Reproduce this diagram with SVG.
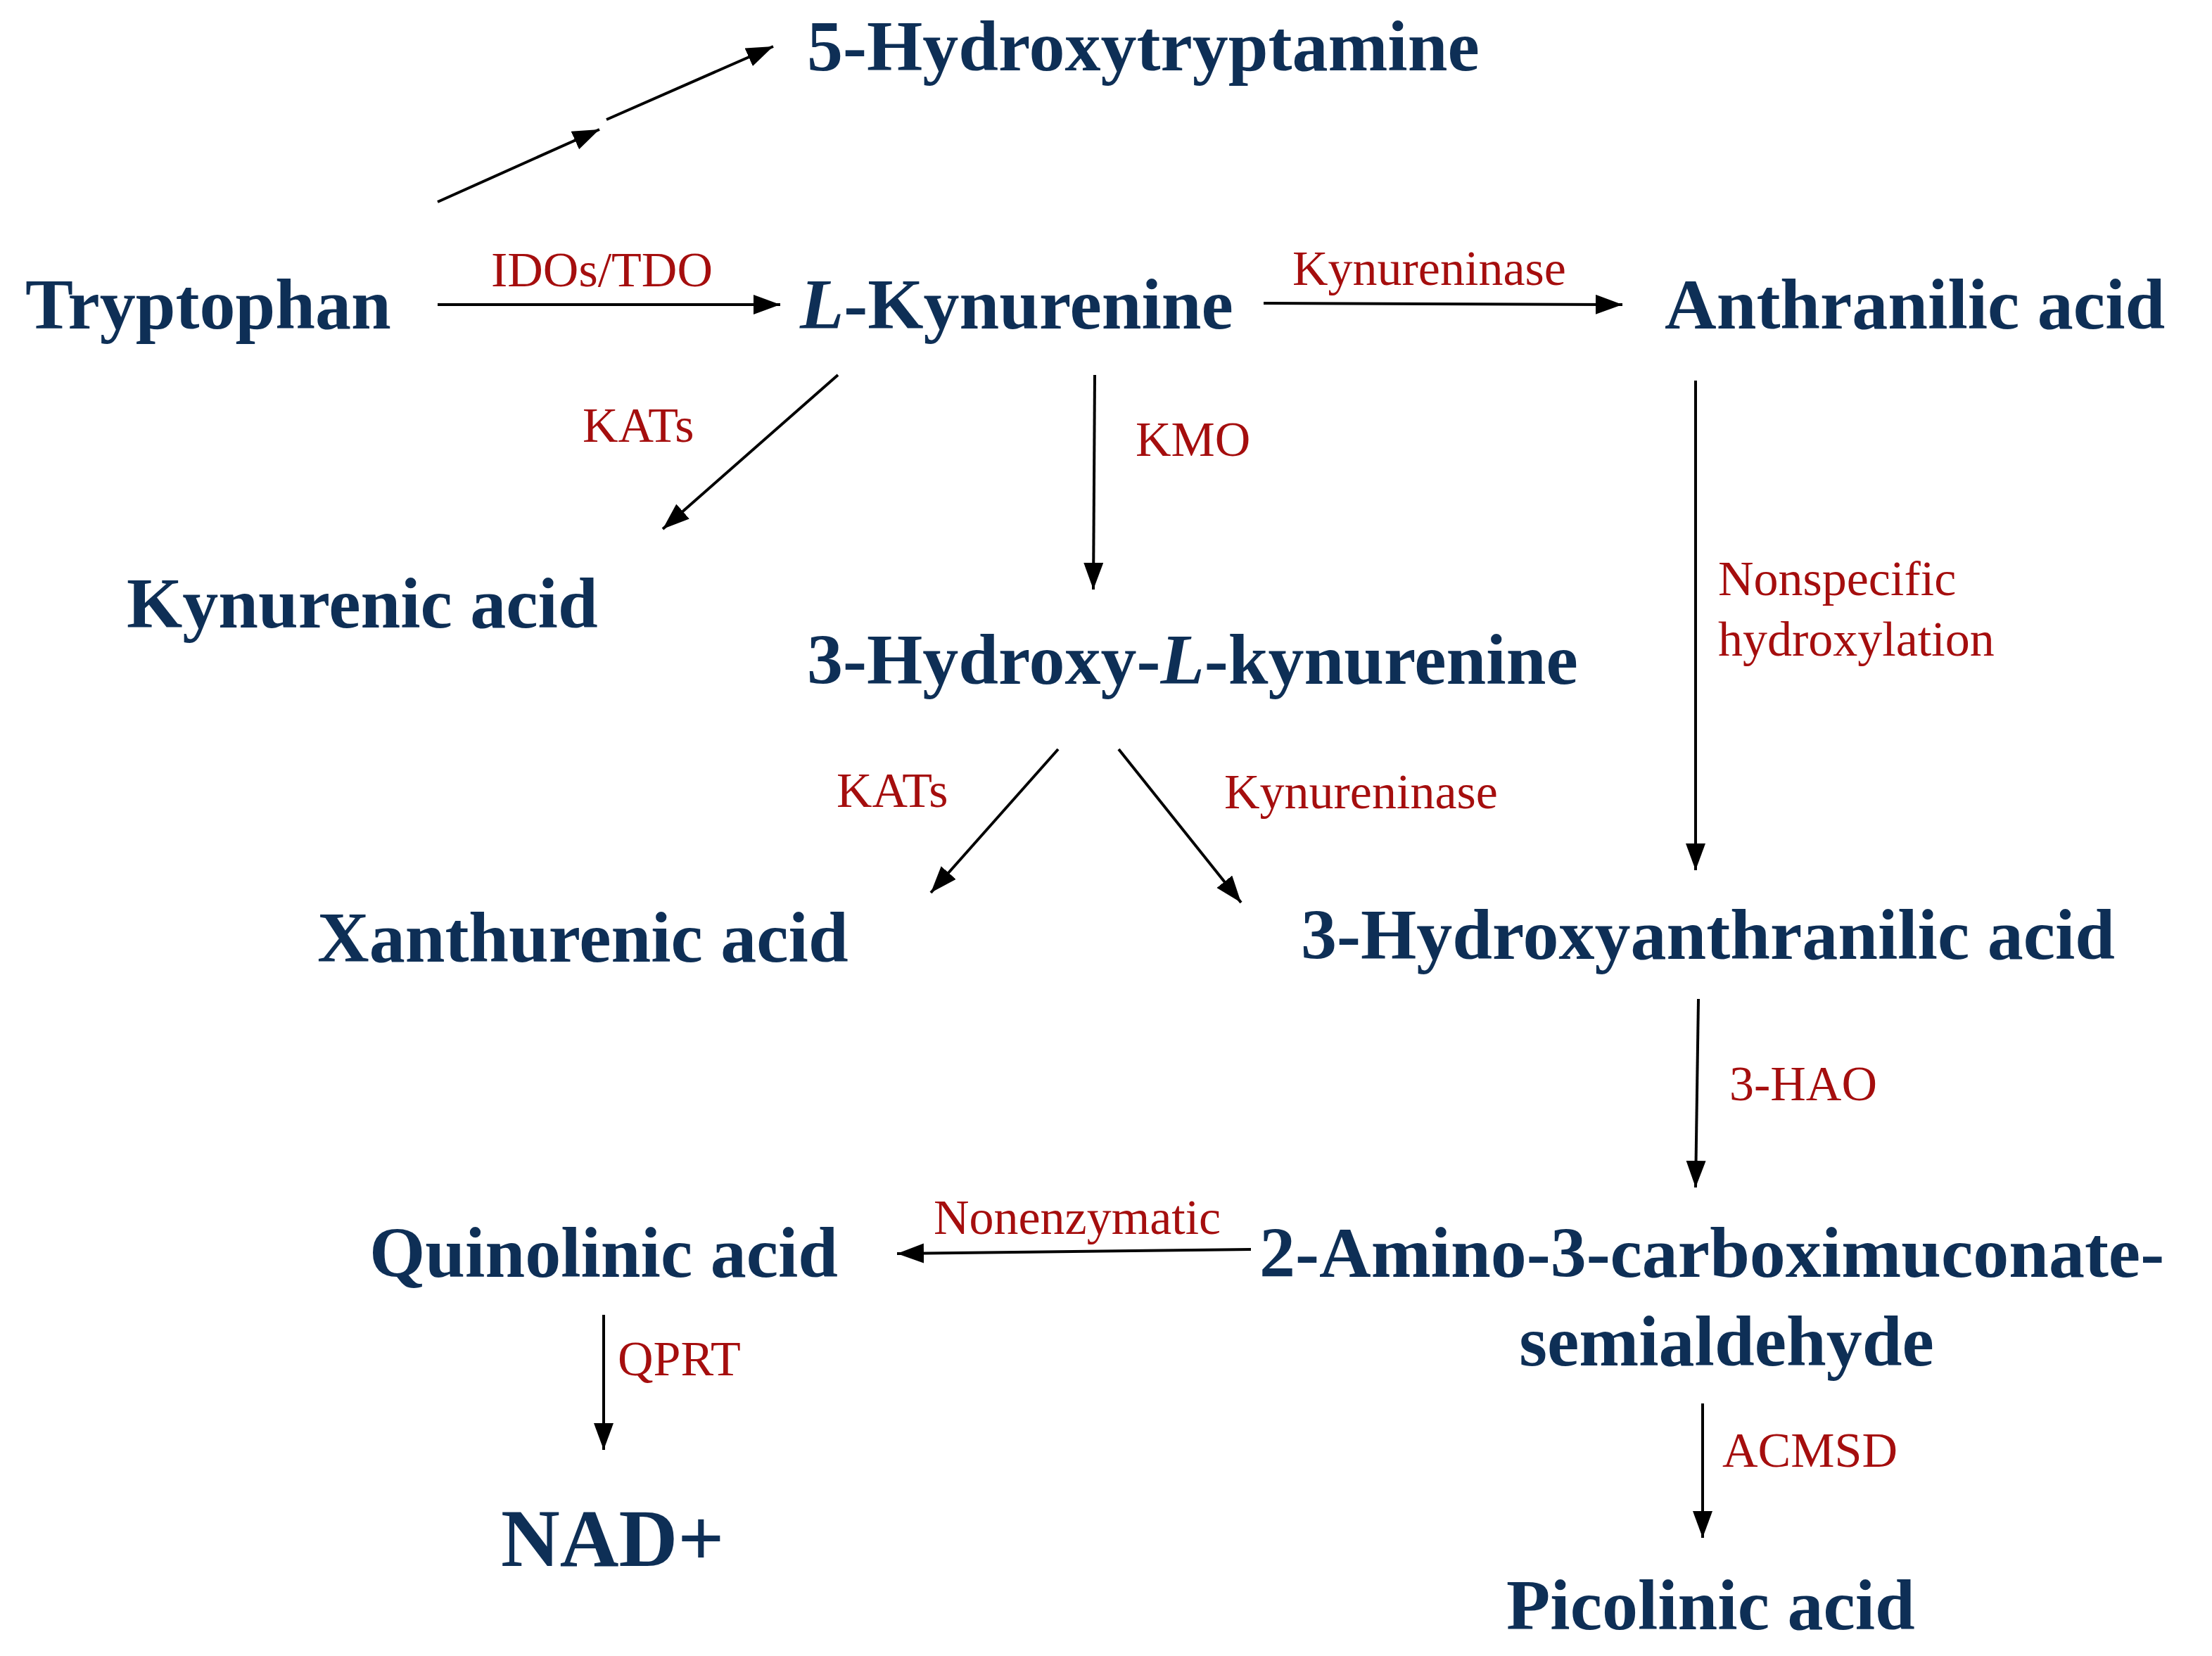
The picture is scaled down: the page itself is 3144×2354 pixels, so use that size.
<svg xmlns="http://www.w3.org/2000/svg" width="3144" height="2354" viewBox="0 0 3144 2354">
<style>
.n{font-family:"Liberation Serif",serif;font-weight:bold;font-size:102px;fill:#0e2f56}
.e{font-family:"Liberation Serif",serif;font-size:70px;fill:#a50e0e}
.c line{stroke:#000;stroke-width:4;marker-end:url(#a)}
</style>
<defs><marker id="a" markerUnits="userSpaceOnUse" markerWidth="40" markerHeight="30" refX="38" refY="14" orient="auto"><path d="M0,0 L38,14 L0,28 Z" fill="#000"/></marker></defs>
<rect width="3144" height="2354" fill="#fff"/>
<g id="n1"><text class="n" x="1147" y="100">5-Hydroxytryptamine</text></g>
<g id="n2"><text class="n" x="36" y="467">Tryptophan</text></g>
<g id="n3"><text class="n" x="1137" y="467"><tspan font-style="italic">L</tspan>-Kynurenine</text></g>
<g id="n4"><text class="n" x="2366" y="467">Anthranilic acid</text></g>
<g id="n5"><text class="n" x="180" y="892">Kynurenic acid</text></g>
<g id="n6"><text class="n" x="1147" y="972">3-Hydroxy-<tspan font-style="italic">L</tspan>-kynurenine</text></g>
<g id="n7"><text class="n" x="451" y="1367">Xanthurenic acid</text></g>
<g id="n8"><text class="n" x="1849" y="1363">3-Hydroxyanthranilic acid</text></g>
<g id="n9"><text class="n" x="525" y="1815">Quinolinic acid</text></g>
<g id="n10"><text class="n" x="1790" y="1815">2-Amino-3-carboximuconate-</text><text class="n" x="2454" y="1941" text-anchor="middle">semialdehyde</text></g>
<g id="n11"><text class="n" x="712" y="2226" style="font-size:116px">NAD+</text></g>
<g id="n12"><text class="n" x="2141" y="2316">Picolinic acid</text></g>
<g id="connectors" class="c">
<line x1="622" y1="287" x2="852" y2="184"/>
<line x1="862" y1="170" x2="1099" y2="66"/>
<line x1="622" y1="433" x2="1109" y2="433"/>
<line x1="1796" y1="431" x2="2306" y2="433"/>
<line x1="1191" y1="533" x2="942" y2="752"/>
<line x1="1556" y1="533" x2="1554" y2="838"/>
<line x1="2410" y1="541" x2="2410" y2="1237"/>
<line x1="1504" y1="1065" x2="1323" y2="1269"/>
<line x1="1590" y1="1065" x2="1764" y2="1283"/>
<line x1="2414" y1="1420" x2="2410" y2="1688"/>
<line x1="1778" y1="1776" x2="1275" y2="1782"/>
<line x1="858" y1="1869" x2="858" y2="2061"/>
<line x1="2420" y1="1995" x2="2420" y2="2186"/>
</g>
<g id="labels">
<text class="e" x="698" y="407">IDOs/TDO</text>
<text class="e" x="1837" y="405">Kynureninase</text>
<text class="e" x="828" y="628">KATs</text>
<text class="e" x="1614" y="648">KMO</text>
<text class="e" x="2442" y="846">Nonspecific</text>
<text class="e" x="2442" y="932">hydroxylation</text>
<text class="e" x="1189" y="1147">KATs</text>
<text class="e" x="1740" y="1149">Kynureninase</text>
<text class="e" x="2458" y="1564">3-HAO</text>
<text class="e" x="1327" y="1754">Nonenzymatic</text>
<text class="e" x="878" y="1955">QPRT</text>
<text class="e" x="2448" y="2085">ACMSD</text>
</g>
</svg>
